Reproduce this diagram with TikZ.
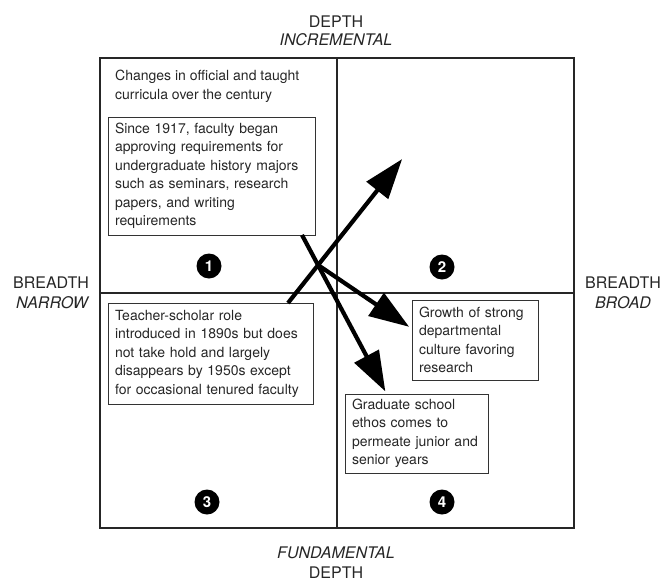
\documentclass[tikz,border=0pt]{standalone}
\usepackage{fontspec}
\setmainfont{TeX Gyre Heros}
\usetikzlibrary{arrows.meta}
\begin{document}
\begin{tikzpicture}[x=1pt,y=-1pt,
  axislabel/.style={font=\fontsize{16}{18}\selectfont, text=black!85, inner sep=0pt, anchor=base},
  note/.style={draw=black!80, line width=0.9pt, align=left, inner xsep=7pt, inner ysep=0pt,
    font=\fontsize{14}{18.5}\selectfont, text=black!85},
  quadnum/.style={circle, fill=black, text=white, inner sep=0pt, minimum size=25pt,
    font=\fontsize{15}{15}\selectfont\bfseries},
  flow/.style={line width=4.2pt, -{Triangle[length=40pt,width=27pt]}, shorten >=-5pt}
]
\useasboundingbox (0,0) rectangle (664,581);

% quadrant frame
\draw[line width=1.3pt, black!85] (100,58) rectangle (574,528);
\draw[line width=1.1pt, black!85] (337,58) -- (337,528);
\draw[line width=1.1pt, black!85] (100,293) -- (574,293);

% axis labels
\node[axislabel] (depthTop) at (336,27) {DEPTH};
\node[axislabel, font=\fontsize{16}{18}\selectfont\itshape] (incr) at (336,45) {INCREMENTAL};
\node[axislabel, font=\fontsize{16}{18}\selectfont\itshape] (fund) at (336,558) {FUNDAMENTAL};
\node[axislabel] (depthBot) at (336,578) {DEPTH};
\node[axislabel] (breadthL) at (51,288) {BREADTH};
\node[axislabel, font=\fontsize{16}{18}\selectfont\itshape] (narrow) at (52,308) {NARROW};
\node[axislabel] (breadthR) at (623,288) {BREADTH};
\node[axislabel, font=\fontsize{16}{18}\selectfont\itshape] (broad) at (623,308) {BROAD};

% quadrant one heading
\node[anchor=north west, inner sep=0pt, align=left, text=black!85,
      font=\fontsize{14}{18.5}\selectfont] (heading) at (115,70)
  {Changes in official and taught\\curricula over the century};

% text boxes
\node[note, text width=193pt, minimum height=118pt] (since) at (211.5,176)
  {Since 1917, faculty began\\approving requirements for\\undergraduate history majors\\such as seminars, research\\papers, and writing\\requirements};
\node[note, text width=191pt, minimum height=101pt] (teacher) at (210.5,353.5)
  {Teacher-scholar role\\introduced in 1890s but does\\not take hold and largely\\disappears by 1950s except\\for occasional tenured faculty};
\node[note, text width=112pt, minimum height=80pt] (growth) at (475,340)
  {Growth of strong\\departmental\\culture favoring\\research};
\node[note, text width=129pt, minimum height=79pt] (grad) at (416.5,433.5)
  {Graduate school\\ethos comes to\\permeate junior and\\senior years};

% quadrant numbers
\node[quadnum] (q1) at (209,266) {1};
\node[quadnum] (q2) at (442,267) {2};
\node[quadnum] (q3) at (207,502) {3};
\node[quadnum] (q4) at (442,502) {4};

% arrow end points
\coordinate (aStart) at (288,303);
\coordinate (aEnd) at (399,163);
\coordinate (bStart) at (302,235);
\coordinate (split) at (318,265);
\coordinate (bEnd) at (383,387);
\coordinate (cEnd) at (405,324);

% arrows
\draw[flow] (aStart) -- (aEnd);
\draw[flow] (bStart) -- (bEnd);
\draw[flow] (split) -- (cEnd);
\end{tikzpicture}
\end{document}
